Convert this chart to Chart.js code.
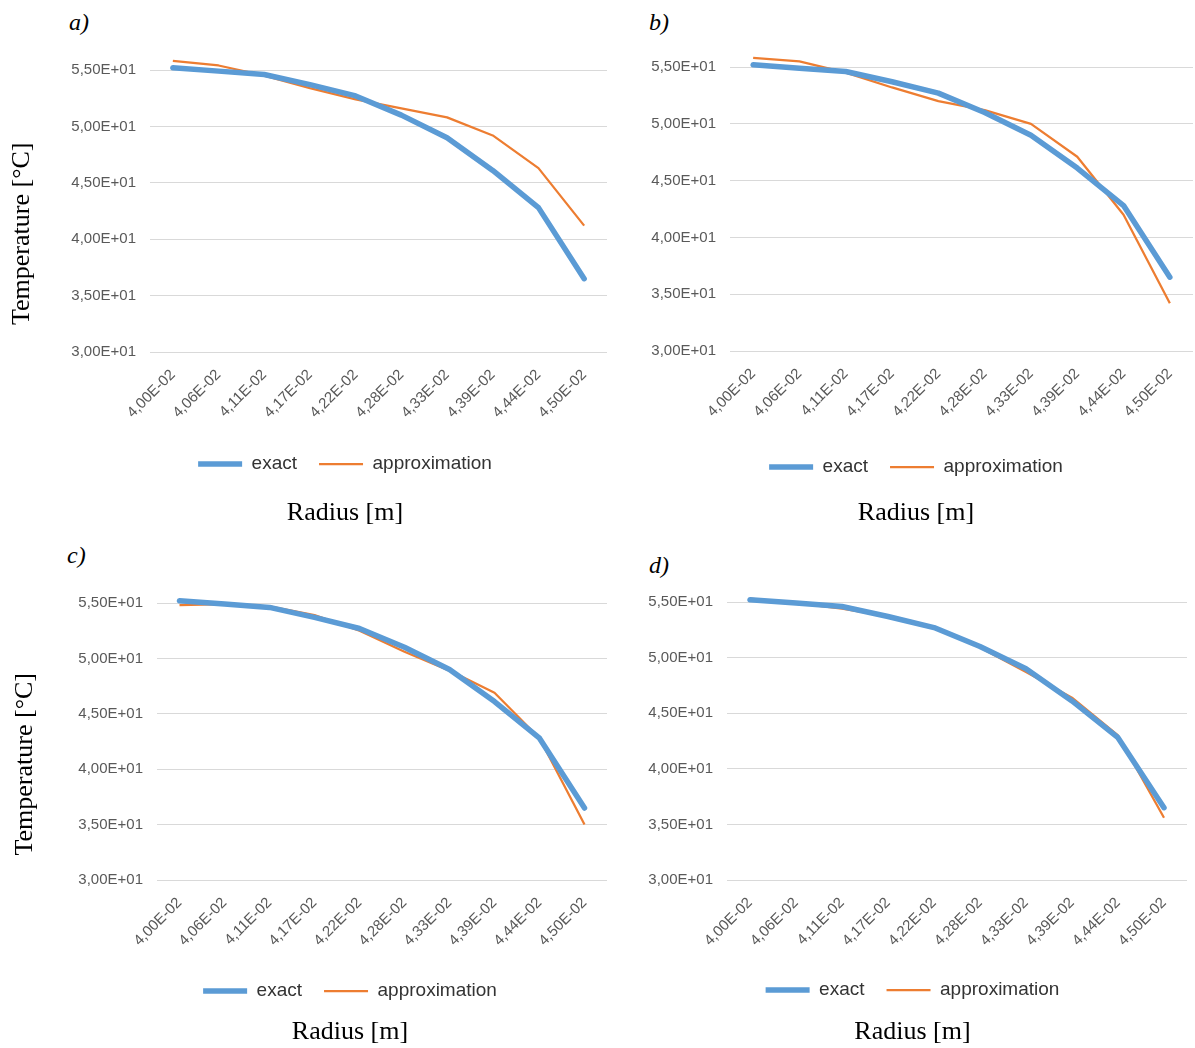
<!DOCTYPE html>
<html>
<head>
<meta charset="utf-8">
<script src="https://cdn.jsdelivr.net/npm/chart.js@4.4.1/dist/chart.umd.min.js"></script>
<style>
  body { margin: 0; background: #fff; width: 1195px; height: 1048px; position: relative; overflow: hidden; }
  canvas { position: absolute; }
  .tag { position: absolute; font: italic 24px "Liberation Serif", serif; line-height: 24px; color: #000; }
</style>
</head>
<body>
<div class="tag" style="left:69px;top:10px">a)</div>
<div class="tag" style="left:649px;top:10px">b)</div>
<div class="tag" style="left:67px;top:543px">c)</div>
<div class="tag" style="left:649px;top:553px">d)</div>
<canvas id="chartA"></canvas>
<canvas id="chartB"></canvas>
<canvas id="chartC"></canvas>
<canvas id="chartD"></canvas>
<script>
// radius categories (x axis)
const radiusLabels = ['4,00E-02', '4,06E-02', '4,11E-02', '4,17E-02', '4,22E-02',
                      '4,28E-02', '4,33E-02', '4,39E-02', '4,44E-02', '4,50E-02'];

// temperature, deg C
const exactTemp = [55.2, 54.9, 54.6, 53.7, 52.7, 51.0, 49.0, 46.1, 42.8, 36.5];
const approxA   = [55.8, 55.4, 54.5, 53.4, 52.4, 51.6, 50.8, 49.2, 46.3, 41.2];
const approxB   = [55.8, 55.5, 54.5, 53.2, 52.0, 51.2, 50.0, 47.1, 42.0, 34.2];
const approxC   = [54.8, 54.9, 54.7, 53.9, 52.5, 50.6, 48.9, 46.9, 42.8, 35.0];
const approxD   = [55.3, 54.9, 54.4, 53.7, 52.7, 50.9, 48.7, 46.4, 43.0, 35.6];

const yMin = 30, yMax = 55, yStep = 5;

// canvas box [left, top, w, h], plot area [l, r, t, b] inside the canvas
const panels = [
  { id: 'chartA', approx: approxA, yTitle: true,  box: [0, 0, 690, 530],   plot: [150, 607, 70, 352], legendY: 464, titleY: 513, yTitleX: 22 },
  { id: 'chartB', approx: approxB, yTitle: false, box: [631, 0, 570, 530], plot: [99, 562, 67, 351],  legendY: 467, titleY: 513 },
  { id: 'chartC', approx: approxC, yTitle: true,  box: [0, 530, 700, 518], plot: [157, 607, 73, 350], legendY: 461, titleY: 502, yTitleX: 25 },
  { id: 'chartD', approx: approxD, yTitle: false, box: [625, 530, 575, 518], plot: [102, 562, 72, 350], legendY: 460, titleY: 502 }
];

const tickFont = { family: 'Liberation Sans', size: 15 };
const legendFont = { family: 'Liberation Sans', size: 19 };
const serif = { family: 'Liberation Serif', size: 26, weight: 'normal', lineHeight: 1.2 };

function sci(v) {
  const [m, e] = Number(v).toExponential(2).split('e');
  const ex = parseInt(e, 10);
  return m.replace('.', ',') + 'E' + (ex < 0 ? '-' : '+') + String(Math.abs(ex)).padStart(2, '0');
}

panels.forEach(p => {
  const [left, top, w, h] = p.box;
  const [pl, pr, pt, pb] = p.plot;
  const cv = document.getElementById(p.id);
  cv.width = w; cv.height = h;
  cv.style.left = left + 'px'; cv.style.top = top + 'px';

  const half = serif.size * serif.lineHeight / 2;
  const legendPad = 22;
  const legendH = legendFont.size + legendPad + 10;
  const titleTop = p.legendY - legendFont.size / 2 - legendPad + legendH;
  const titlePadTop = p.titleY - half - titleTop;
  const titlePadBottom = Math.max(0, h - p.titleY - half);
  const xHeight = titleTop - legendH - pb;

  new Chart(cv.getContext('2d'), {
    type: 'line',
    data: {
      labels: radiusLabels,
      datasets: [
        { label: 'exact', data: exactTemp, borderColor: '#5B9BD5', backgroundColor: '#5B9BD5',
          borderWidth: 5.5, borderCapStyle: 'round', borderJoinStyle: 'round', pointRadius: 0, tension: 0, clip: false },
        { label: 'approximation', data: p.approx, borderColor: '#ED7D31', backgroundColor: '#ED7D31',
          borderWidth: 2.25, borderJoinStyle: 'round', pointRadius: 0, tension: 0, clip: false }
      ]
    },
    options: {
      responsive: false,
      animation: false,
      devicePixelRatio: 1,
      layout: { padding: { top: pt, left: 0, right: 0, bottom: 0 } },
      plugins: {
        legend: {
          position: 'bottom',
          labels: { usePointStyle: true, pointStyle: 'line', pointStyleWidth: 44, padding: legendPad, color: '#333333', font: legendFont }
        },
        title: {
          display: true, position: 'bottom', text: 'Radius [m]', color: '#000', font: serif,
          padding: { top: titlePadTop, bottom: titlePadBottom }
        },
        tooltip: { enabled: false }
      },
      scales: {
        x: {
          offset: true,
          grid: { display: false },
          border: { display: false },
          ticks: { maxRotation: 45, minRotation: 45, autoSkip: false, padding: 6, color: '#595959', font: tickFont },
          afterFit: s => { s.height = xHeight; }
        },
        y: {
          min: yMin, max: yMax,
          grid: { color: '#d9d9d9', drawTicks: false },
          border: { display: false },
          ticks: { stepSize: yStep, callback: sci, padding: 14, color: '#595959', font: tickFont },
          // trailing spaces push the centred title a little down, as in the source
          title: { display: p.yTitle, text: 'Temperature [°C]       ', color: '#000', font: serif,
                   padding: { top: (p.yTitleX || 20) - half, bottom: 0 } },
          afterFit: s => { s.width = pl; }
        },
        y2: {
          position: 'right',
          grid: { display: false },
          border: { display: false },
          ticks: { display: false },
          afterFit: s => { s.width = w - pr; }
        }
      }
    }
  });
});
</script>
</body>
</html>
